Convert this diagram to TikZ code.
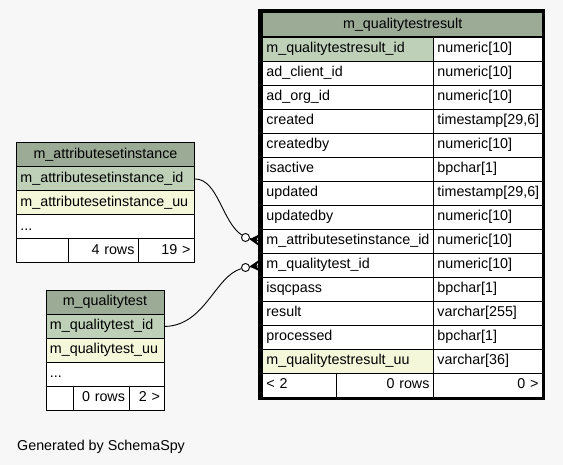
\documentclass[tikz,border=0pt]{standalone}
\usepackage{fontspec}
\setmainfont{Liberation Sans}
\definecolor{hdr}{HTML}{9BAB96}
\definecolor{pk}{HTML}{BED1B8}
\definecolor{idx}{HTML}{F4F7DA}
\definecolor{bg}{HTML}{F7F7F7}
\begin{document}
\begin{tikzpicture}[x=1pt,y=-1pt,
  cell/.style={draw=black, line width=0.9pt, anchor=north west, minimum height=24pt,
    inner xsep=4pt, inner ysep=0pt, font=\fontsize{14.3}{16}\selectfont,
    text height=10pt, text depth=3pt},
  lcell/.style={cell, align=left, text width=#1},
  rcell/.style={cell, align=right, text width=#1},
  ccell/.style={cell, align=center, text width=#1, fill=hdr},
  conn/.style={draw=black, line width=0.9pt},
  odot/.style={circle, draw=black, line width=0.9pt, fill=white, minimum size=8pt, inner sep=0pt}]
\useasboundingbox[fill=bg] (0,0) rectangle (563,465);

% main table
\node[ccell=272.5pt] (mh) at (262,12.5) {m\_qualitytestresult};
\foreach \a/\b/\f [count=\i] in {
  m\_qualitytestresult\_id/numeric[10]/pk,
  ad\_client\_id/numeric[10]/white,
  ad\_org\_id/numeric[10]/white,
  created/{timestamp[29,6]}/white,
  createdby/numeric[10]/white,
  isactive/bpchar[1]/white,
  updated/{timestamp[29,6]}/white,
  updatedby/numeric[10]/white,
  m\_attributesetinstance\_id/numeric[10]/white,
  m\_qualitytest\_id/numeric[10]/white,
  isqcpass/bpchar[1]/white,
  result/varchar[255]/white,
  processed/bpchar[1]/white,
  m\_qualitytestresult\_uu/varchar[36]/idx}
{
  \node[lcell=163pt, fill=\f] (rl\i) at (262,{37+24*(\i-1)}) {\a};
  \node[lcell=101pt, fill=white] (rr\i) at (433,{37+24*(\i-1)}) {\b};
}
\node[lcell=66pt, fill=white] (mf1) at (262,373) {< 2};
\node[rcell=89pt, fill=white] (mf2) at (336,373) {0 rows};
\node[rcell=101pt, fill=white] (mf3) at (433,373) {0 >};
\draw[line width=3.3pt] (260,10.5) rectangle (543.8,398.5);

% m_attributesetinstance
\node[ccell=170pt] (ah) at (16,142.5) {m\_attributesetinstance};
\node[lcell=170pt, fill=pk] (aid) at (16,166.5) {m\_attributesetinstance\_id};
\node[lcell=170pt, fill=idx] (auu) at (16,190.5) {m\_attributesetinstance\_uu};
\node[lcell=170pt, fill=white] (adots) at (16,214.5) {...};
\node[lcell=44pt, fill=white] (af1) at (16,238.5) {};
\node[rcell=62pt, fill=white] (af2) at (68,238.5) {4 rows};
\node[rcell=48pt, fill=white] (af3) at (138,238.5) {19 >};

% m_qualitytest
\node[ccell=110pt] (qh) at (45.5,290) {m\_qualitytest};
\node[lcell=110pt, fill=pk] (qid) at (45.5,314) {m\_qualitytest\_id};
\node[lcell=110pt, fill=idx] (quu) at (45.5,338) {m\_qualitytest\_uu};
\node[lcell=110pt, fill=white] (qdots) at (45.5,362) {...};
\node[lcell=19pt, fill=white] (qf1) at (45.5,386) {};
\node[rcell=48pt, fill=white] (qf2) at (72.5,386) {0 rows};
\node[rcell=27pt, fill=white] (qf3) at (128.5,386) {2 >};

% connectors
\node[odot] (o1) at (245.5,237.5) {};
\node[odot] (o2) at (245.5,267.5) {};
\draw[conn] (aid.east) .. controls (218,179) and (222,222) .. (o1);
\draw[conn] (o1) -- (rl9.west);
\fill (249.5,239.3) -- (259,234.5) -- (256.5,240.5) -- (259,246) -- cycle;
\draw[conn] (qid.east) .. controls (205,326) and (215,276) .. (o2);
\draw[conn] (o2) -- (rl10.west);
\fill (249.5,266.5) -- (259,260) -- (256.5,265.5) -- (259,271) -- cycle;

\node[anchor=base west, font=\fontsize{14.3}{16}\selectfont, inner sep=0pt] (gen) at (17,450) {Generated by SchemaSpy};
\end{tikzpicture}
\end{document}
